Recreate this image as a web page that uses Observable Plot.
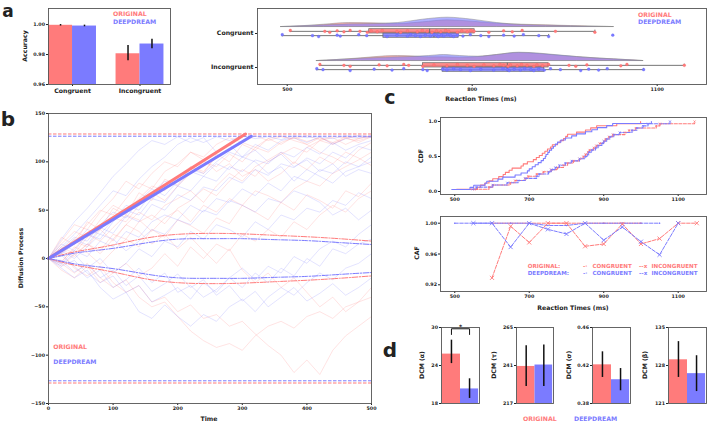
<!DOCTYPE html>
<html><head><meta charset="utf-8">
<script src="https://cdn.jsdelivr.net/npm/d3@7"></script>
<script src="https://cdn.jsdelivr.net/npm/@observablehq/plot@0.6"></script>
<style>
body{margin:0;background:#fff;}
#fig{position:relative;width:708px;height:424px;overflow:hidden;font-family:"DejaVu Sans",sans-serif;background:#fff;}
.t{position:absolute;font-weight:bold;white-space:nowrap;line-height:1;}
.catx [aria-label^="x-axis"] text{font-size:6.2px;}
.caty [aria-label^="y-axis"] text{font-size:6.2px;}
</style></head><body><div id="fig"></div>
<script>
const RED="#ff7b7b", BLUE="#7b7bff", GREY="#666", FRAME="#555";

// ---------- panel a (accuracy) ----------
const accCats=["Congruent","Incongruent"];
const accOrig=[0.9995,0.9805];
const accOrigErr=[[0.9990,1.0000],[0.9758,0.9860]];
const accDeep=[0.9990,0.9870];
const accDeepErr=[[0.9985,0.9996],[0.9838,0.9902]];
const accTicks=[0.96,0.98,1.00];

// ---------- panel a (reaction times) ----------
const rtCats=["Congruent","Incongruent"];
const rtOrigCong=[505,561,569,581,592,602,618,630,636,646,654,678,684,695,711,719,727,735,742,749,757,762,776,783,792,798,803,827,851,865,881,935,999];
const rtDeepCong=[492,541,551,581,586,616,629,662,678,695,700,708,716,724,732,738,743,745,750,754,760,765,770,776,785,797,814,827,851,868,883,908,924,1028];
const rtOrigInc=[553,592,602,649,662,689,697,720,738,759,776,792,803,819,835,845,851,858,862,873,880,889,900,905,914,924,957,968,986,1041,1051,1144];
const rtDeepInc=[548,558,602,641,670,689,720,727,752,759,770,781,797,814,835,850,857,860,868,878,885,895,900,908,917,927,943,976,989,1005,1019,1078];
// [whisker low, q1, median, q3, whisker high]
const boxOrig=[[505,633,731,804,999],[553,720,857,924,1144]];
const boxDeep=[[492,656,738,778,924],[548,752,857,917,1078]];
const violinGrid=[[490,520,560,600,640,680,720,760,800,840,880,920,960,1000,1030],
                  [548,580,620,660,680,700,730,754,780,810,840,876,910,940,970,1000,1030,1060,1078]];
const violinOrig=[[0,2,7,12,11,9,14,20,16,10,7,5,3,1,0],
                  [0,3,8,14,15,14,11,11,10,12,18,24,21,16,12,8,5,2,0]];
const violinDeep=[[0,2,5,8,9,12,22,28,22,12,6,4,2,1,0],
                  [0,3,7,10,11,12,15,18,15,13,18,25,22,17,12,8,5,2,0]];
const rtTicks=[500,800,1100];

// ---------- panel b (diffusion) ----------
const trajT=[0,20,40,60,80,100,120,140,160,180,200,220,240,260,280,300,320,340,360,380,400,420,440,460,480,500];
const trajOrig=[
[0,12,5,22,30,18,35,48,40,55,62,70,58,75,88,80,95,102,110,98,115,122,118,125,120,126],
[0,-8,4,15,8,25,20,38,45,36,52,60,72,65,80,92,85,100,108,115,110,122,125,118,124,127],
[0,6,-10,-18,-8,-25,-35,-28,-45,-40,-55,-48,-62,-58,-70,-65,-78,-90,-100,-118,-105,-120,-95,-80,-70,-60],
[0,-5,-15,-5,-20,-30,-22,-40,-50,-45,-60,-75,-85,-92,-88,-95,-80,-70,-65,-72,-60,-55,-62,-50,-45,-40],
[0,15,28,22,40,55,48,62,75,70,85,95,90,105,112,120,115,124,127,122,118,125,120,126,124,127],
[0,-3,10,25,18,32,45,40,28,42,50,38,55,48,62,55,70,65,58,72,80,75,88,95,102,110],
[0,8,20,35,50,45,62,78,72,90,98,110,105,118,125,120,127,122,126,124,127,123,126,125,127,126],
[0,-12,-20,-8,-25,-15,-5,-18,-10,5,-8,12,0,15,8,25,18,30,22,38,30,45,55,48,62,70],
[0,5,18,12,30,42,38,55,68,60,75,88,100,95,108,100,115,110,120,125,118,110,105,98,112,120],
[0,10,2,15,5,20,35,28,15,25,10,22,8,-5,10,-12,-25,-15,-30,-20,-35,-50,-40,-55,-45,-30],
[0,18,35,30,48,62,80,72,88,100,95,110,102,90,98,85,92,80,88,100,92,105,98,110,104,96],
[0,22,14,38,30,52,45,68,60,82,76,95,88,108,100,118,112,124,118,126,121,125,119,124,122,126],
[0,-4,12,6,-6,8,20,12,30,22,40,34,26,42,36,55,48,40,58,50,66,60,52,70,64,78]];
const trajDeep=[
[0,10,22,18,35,48,42,60,72,65,80,92,88,100,110,105,118,112,122,125,120,126,118,124,127,125],
[0,-10,-20,-12,-30,-42,-35,-55,-62,-48,-60,-70,-58,-65,-50,-42,-55,-40,-30,-38,-25,-15,-22,-10,-5,5],
[0,5,15,30,25,40,55,50,68,80,75,90,85,98,92,105,100,88,95,80,92,85,78,90,95,100],
[0,-5,8,2,18,12,28,22,38,45,40,55,48,62,58,72,65,78,70,85,80,92,88,100,95,105],
[0,12,25,40,55,70,65,82,95,105,118,125,120,126,122,127,124,126,123,127,125,126,124,127,125,126],
[0,-8,-2,-15,-25,-18,-35,-28,-45,-38,-30,-42,-25,-35,-20,-10,-22,-8,-15,2,-5,10,18,12,25,35],
[0,8,0,12,25,20,8,18,30,25,40,35,50,45,60,55,48,62,58,70,65,58,45,52,40,50],
[0,15,8,25,20,38,50,45,62,58,75,70,85,80,95,90,102,98,110,105,115,108,120,112,118,122],
[0,-6,5,-10,0,-15,-5,10,2,18,12,28,20,35,30,22,38,30,45,40,52,48,60,55,68,62],
[0,3,-8,-20,-12,-30,-22,-10,-25,-15,-35,-28,-40,-32,-20,-30,-15,-25,-10,-18,0,-8,10,5,15,20],
[0,20,38,52,68,85,98,112,122,118,126,120,125,110,118,105,112,100,108,95,102,90,98,85,92,88],
[0,6,20,14,32,26,44,38,56,50,66,60,74,70,84,78,92,86,98,94,104,98,110,104,116,112],
[0,-2,-14,-6,-20,-12,-28,-18,-34,-26,-16,-30,-22,-38,-28,-44,-34,-50,-40,-30,-44,-36,-26,-38,-30,-20]];
const driftT=[305,314];          // time the drift line reaches the bound (orig, deep)
const bounds=[128.8,126.5];      // decision bounds (orig, deep)
const sdT=[0,25,50,100,150,200,250,300,350,400,450,500];
const sdOrig=[0,4.5,8,14,21,25,26,25.5,24,22.5,20.5,18];
const sdDeep=[0,3.5,6.5,10.5,16,20,20.5,20.5,19.5,18.5,16.5,14.5];
const diffTicksX=[0,100,200,300,400,500];
const diffTicksY=[-150,-100,-50,0,50,100,150];

// ---------- panel c ----------
const cafBins=[500,550,600,650,700,750,800,850,900,950,1000,1050,1100,1150];
const cafOrigCong=[null,null,1,1,1,1,1,1,1,1,1,null,null,null];
const cafDeepCong=[1,1,1,1,1,0.997,0.997,1,1,1,1,1,null,null];
const cafOrigInc=[null,null,0.929,0.996,0.975,1,1,0.970,0.973,0.999,0.973,0.980,1,1];
const cafDeepInc=[null,1,1,0.969,1,0.992,0.986,1,0.978,0.995,0.976,0.959,1,null];
const cRtTicks=[500,700,900,1100];
const cdfTicks=[0,0.5,1];
const cafTicks=[0.92,0.96,1.00];

// ---------- panel d ----------
const dcmLabels=["DCM (α)","DCM (τ)","DCM (σ)","DCM (β)"];
const dcmOrig=[25.8,240.4,0.4207,129.05];
const dcmOrigErr=[[24.3,28.0],[227.7,253.4],[0.4074,0.4344],[125.8,132.4]];
const dcmDeep=[20.3,241.3,0.405,126.5];
const dcmDeepErr=[[18.8,21.9],[227.7,254.0],[0.3934,0.4168],[123.2,129.8]];
const dcmTicks=[[18,24,30],[217,241,265],[0.38,0.42,0.46],[121,128,135]];
const dcmSig=["*",null,null,null];

// ================= drawing =================
const fig=document.getElementById("fig");
function put(fr, opts, cls){
  const m=Object.assign({l:30,r:6,t:6,b:12}, opts.m||{});
  const o=Object.assign({}, opts); delete o.m;
  const w=fr[2]-fr[0], h=fr[3]-fr[1];
  const svg=Plot.plot(Object.assign({
    width:w+m.l+m.r, height:h+m.t+m.b,
    marginLeft:m.l, marginRight:m.r, marginTop:m.t, marginBottom:m.b,
    style:"background:transparent;font-family:'DejaVu Sans',sans-serif;font-size:4.8px;font-weight:bold;color:#222;overflow:visible;max-width:none;"
  }, cls?{className:cls}:{}, o));
  svg.style.position="absolute";
  svg.style.left=(fr[0]-m.l)+"px";
  svg.style.top=(fr[1]-m.t)+"px";
  fig.appendChild(svg);
}
function txt(s,x,y,o={}){
  const d=document.createElement("div");
  d.className="t"; d.textContent=s;
  d.style.left=x+"px"; d.style.top=y+"px";
  d.style.fontSize=(o.size||6.2)+"px";
  d.style.color=o.color||"#222";
  if(o.lh) d.style.lineHeight=o.lh;
  let tr=o.anchor==="start"?"translate(0,-50%)":"translate(-50%,-50%)";
  if(o.rot) tr+=" rotate(-90deg)";
  d.style.transform=tr;
  fig.appendChild(d);
}
const frame=()=>Plot.frame({stroke:FRAME,strokeWidth:0.9});
const f2=d3.format(".2f");
const fInt=d3.format("d");

// ---- a: accuracy ----
{
  const barW=0.355;
  const orig=accCats.map((c,i)=>({x1:i-barW,x2:i,xc:i-barW/2,v:accOrig[i],lo:accOrigErr[i][0],hi:accOrigErr[i][1]}));
  const deep=accCats.map((c,i)=>({x1:i,x2:i+barW,xc:i+barW/2,v:accDeep[i],lo:accDeepErr[i][0],hi:accDeepErr[i][1]}));
  put([48,8,170,84],{
    x:{domain:[-0.356,1.452],ticks:[0,1],tickFormat:i=>accCats[i],tickSize:2,tickPadding:2.5,label:null},
    y:{domain:[0.96,1.0107],ticks:accTicks,tickFormat:f2,tickSize:2,tickPadding:1.5,label:null},
    marks:[
      Plot.rect(orig,{x1:"x1",x2:"x2",y1:0.96,y2:"v",fill:RED}),
      Plot.rect(deep,{x1:"x1",x2:"x2",y1:0.96,y2:"v",fill:BLUE}),
      Plot.ruleX(orig,{x:"xc",y1:"lo",y2:"hi",stroke:"#111",strokeWidth:1.5}),
      Plot.ruleX(deep,{x:"xc",y1:"lo",y2:"hi",stroke:"#111",strokeWidth:1.5}),
      frame()
    ]
  },"catx");
  txt("Accuracy",25,46,{rot:true});
  txt("ORIGINAL",113,14,{anchor:"start",color:RED});
  txt("DEEPDREAM",113,21.5,{anchor:"start",color:BLUE});
}

// ---- a: reaction-time raincloud ----
{
  const vBase=-0.19, vK=1/102, boxOff=0.063, boxHH=0.063, capH=0.035;
  const vO=[], vD=[];
  rtCats.forEach((c,i)=>violinGrid[i].forEach((ms,j)=>{
    vO.push({i,ms,h:violinOrig[i][j]}); vD.push({i,ms,h:violinDeep[i][j]});
  }));
  const bx=(b,i,off)=>({i,y:i+off,lo:b[0],q1:b[1],med:b[2],q3:b[3],hi:b[4]});
  const bO=boxOrig.map((b,i)=>bx(b,i,-boxOff)), bD=boxDeep.map((b,i)=>bx(b,i,boxOff));
  const pts=(arr,i,off)=>arr.map((ms,j)=>({ms,y:i+off+((j*7)%5-2)*0.014}));
  const pO=[...pts(rtOrigCong,0,-boxOff),...pts(rtOrigInc,1,-boxOff)];
  const pD=[...pts(rtDeepCong,0,boxOff),...pts(rtDeepInc,1,boxOff)];
  const boxMarks=(B,col)=>[
    Plot.ruleY(B,{y:"y",x1:"lo",x2:"hi",stroke:GREY,strokeWidth:0.9}),
    Plot.ruleX(B,{x:"lo",y1:d=>d.y-capH,y2:d=>d.y+capH,stroke:GREY,strokeWidth:0.9}),
    Plot.ruleX(B,{x:"hi",y1:d=>d.y-capH,y2:d=>d.y+capH,stroke:GREY,strokeWidth:0.9}),
    Plot.rect(B,{x1:"q1",x2:"q3",y1:d=>d.y-boxHH,y2:d=>d.y+boxHH,fill:col,fillOpacity:0.85,stroke:GREY,strokeWidth:0.7}),
    Plot.ruleX(B,{x:"med",y1:d=>d.y-boxHH,y2:d=>d.y+boxHH,stroke:GREY,strokeWidth:0.9})
  ];
  put([257,8,706,84],{
    m:{l:46,r:2,t:6,b:12},
    x:{domain:[451.8,1180],ticks:rtTicks,tickFormat:fInt,tickSize:2,tickPadding:1.5,label:null},
    y:{domain:[-0.735,1.5],reverse:true,ticks:[0,1],tickFormat:i=>rtCats[i],tickSize:2,tickPadding:2,label:null},
    marks:[
      Plot.areaY(vO,{x:"ms",y1:d=>d.i+vBase,y2:d=>d.i+vBase-d.h*vK,z:"i",fill:RED,fillOpacity:0.6,stroke:"#888",strokeWidth:0.5,curve:"monotone-x"}),
      Plot.areaY(vD,{x:"ms",y1:d=>d.i+vBase,y2:d=>d.i+vBase-d.h*vK,z:"i",fill:BLUE,fillOpacity:0.6,stroke:"#888",strokeWidth:0.5,curve:"monotone-x"}),
      ...boxMarks(bO,RED),
      ...boxMarks(bD,BLUE),
      Plot.dot(pO,{x:"ms",y:"y",r:1.4,fill:RED,stroke:"#ff5a5a",strokeWidth:0.3}),
      Plot.dot(pD,{x:"ms",y:"y",r:1.4,fill:BLUE,stroke:"#5a5aff",strokeWidth:0.3}),
      frame()
    ]
  },"caty");
  txt("Reaction Times (ms)",481,98.5);
  txt("ORIGINAL",638,15,{anchor:"start",color:RED});
  txt("DEEPDREAM",638,22.3,{anchor:"start",color:BLUE});
}

// ---- b: diffusion ----
{
  const tr=(arr,tag)=>arr.flatMap((a,k)=>a.map((v,j)=>({id:tag+k,t:trajT[j],v})));
  const sd=(arr,sign)=>arr.map((v,j)=>({t:sdT[j],v:sign*v}));
  put([48,113,371,403],{
    x:{domain:[0,500],ticks:diffTicksX,tickSize:2,tickPadding:1.5,label:null},
    y:{domain:[-150,150],ticks:diffTicksY,tickSize:2,tickPadding:1.5,label:null},
    marks:[
      Plot.line(tr(trajOrig,"o"),{x:"t",y:"v",z:"id",stroke:RED,strokeOpacity:0.24,strokeWidth:0.9}),
      Plot.line(tr(trajDeep,"d"),{x:"t",y:"v",z:"id",stroke:BLUE,strokeOpacity:0.24,strokeWidth:0.9}),
      Plot.ruleY([bounds[0],-bounds[0]],{stroke:RED,strokeDasharray:"3.5,1.5",strokeWidth:1}),
      Plot.ruleY([bounds[1],-bounds[1]],{stroke:BLUE,strokeDasharray:"3.5,1.5",strokeWidth:1}),
      Plot.line(sd(sdOrig,1),{x:"t",y:"v",stroke:RED,strokeWidth:1,strokeDasharray:"6,1.5,1.2,1.5",curve:"natural"}),
      Plot.line(sd(sdOrig,-1),{x:"t",y:"v",stroke:RED,strokeWidth:1,strokeDasharray:"6,1.5,1.2,1.5",curve:"natural"}),
      Plot.line(sd(sdDeep,1),{x:"t",y:"v",stroke:BLUE,strokeWidth:1,strokeDasharray:"6,1.5,1.2,1.5",curve:"natural"}),
      Plot.line(sd(sdDeep,-1),{x:"t",y:"v",stroke:BLUE,strokeWidth:1,strokeDasharray:"6,1.5,1.2,1.5",curve:"natural"}),
      Plot.line([{t:0,v:0},{t:driftT[0],v:bounds[0]}],{x:"t",y:"v",stroke:RED,strokeWidth:3}),
      Plot.line([{t:0,v:0},{t:driftT[1],v:bounds[1]}],{x:"t",y:"v",stroke:BLUE,strokeWidth:3}),
      frame()
    ]
  });
  txt("Diffusion Process",20.7,258,{rot:true});
  txt("Time",209,419);
  txt("ORIGINAL",53.3,347,{anchor:"start",color:RED});
  txt("DEEPDREAM",53.3,362,{anchor:"start",color:BLUE});
}

// ---- c: CDF ----
{
  const ecdf=(arr)=>{const s=[...arr].sort((a,b)=>a-b);return s.map((v,i)=>({x:v,y:(i+1)/s.length}));};
  put([440,117,706,194],{
    x:{domain:[461.7,1176],ticks:cRtTicks,tickFormat:fInt,tickSize:2,tickPadding:1.5,label:null},
    y:{domain:[-0.043,1.057],ticks:cdfTicks,tickFormat:d3.format(".1f"),tickSize:2,tickPadding:1.5,label:null},
    marks:[
      Plot.line(ecdf(rtOrigCong),{x:"x",y:"y",stroke:RED,strokeWidth:1.1,curve:"step-after"}),
      Plot.line(ecdf(rtDeepCong),{x:"x",y:"y",stroke:BLUE,strokeWidth:1.1,curve:"step-after"}),
      Plot.line(ecdf(rtOrigInc),{x:"x",y:"y",stroke:RED,strokeWidth:1.1,strokeDasharray:"3,1.5",curve:"step-after"}),
      Plot.line(ecdf(rtDeepInc),{x:"x",y:"y",stroke:BLUE,strokeWidth:1.1,strokeDasharray:"3,1.5",curve:"step-after"}),
      Plot.dot(ecdf(rtOrigInc),{x:"x",y:"y",r:1,symbol:"times",stroke:RED,strokeWidth:0.8}),
      Plot.dot(ecdf(rtDeepInc),{x:"x",y:"y",r:1,symbol:"times",stroke:BLUE,strokeWidth:0.8}),
      frame()
    ]
  });
  txt("CDF",420.5,156,{rot:true});
}

// ---- c: CAF ----
{
  const rows=(arr)=>arr.map((v,j)=>({x:cafBins[j],y:v})).filter(d=>d.y!=null);
  const ln=(arr,col)=>Plot.line(rows(arr),{x:"x",y:"y",stroke:col,strokeWidth:1,strokeDasharray:"3.5,1.5"});
  put([440,216,706,291],{
    x:{domain:[461.7,1176],ticks:cRtTicks,tickFormat:fInt,tickSize:2,tickPadding:1.5,label:null},
    y:{domain:[0.9113,1.0087],ticks:cafTicks,tickFormat:f2,tickSize:2,tickPadding:1.5,label:null},
    marks:[
      ln(cafOrigCong,RED), ln(cafDeepCong,BLUE), ln(cafOrigInc,RED), ln(cafDeepInc,BLUE),
      Plot.dot(rows(cafOrigCong),{x:"x",y:"y",r:0.8,fill:RED}),
      Plot.dot(rows(cafDeepCong),{x:"x",y:"y",r:0.8,fill:BLUE}),
      Plot.dot(rows(cafOrigInc),{x:"x",y:"y",r:2,symbol:"times",stroke:RED,strokeWidth:0.9}),
      Plot.dot(rows(cafDeepInc),{x:"x",y:"y",r:2,symbol:"times",stroke:BLUE,strokeWidth:0.9}),
      frame()
    ]
  });
  txt("CAF",417,253,{rot:true});
  txt("Reaction Times (ms)",573,307.5);
  const L=5.6;
  txt("ORIGINAL:",527.7,266.7,{anchor:"start",color:RED,size:L});
  txt("DEEPDREAM:",527.7,274.2,{anchor:"start",color:BLUE,size:L});
  txt("-·",583,266.7,{anchor:"start",color:RED,size:L});
  txt("-·",583,274.2,{anchor:"start",color:BLUE,size:L});
  txt("CONGRUENT",592.5,266.7,{anchor:"start",color:RED,size:L});
  txt("CONGRUENT",592.5,274.2,{anchor:"start",color:BLUE,size:L});
  txt("--x",639,266.7,{anchor:"start",color:RED,size:L});
  txt("--x",639,274.2,{anchor:"start",color:BLUE,size:L});
  txt("INCONGRUENT",651.5,266.7,{anchor:"start",color:RED,size:L});
  txt("INCONGRUENT",651.5,274.2,{anchor:"start",color:BLUE,size:L});
}

// ---- d: DCM parameters ----
{
  const frames=[[441,327,479,403],[516,327,553,403],[592,327,630,403],[668,327,706,403]];
  const labX=[421.7,494,569,645];
  dcmLabels.forEach((lab,k)=>{
    const tk=dcmTicks[k];
    const o=[{x1:0,x2:1,xc:0.5,v:dcmOrig[k],lo:dcmOrigErr[k][0],hi:dcmOrigErr[k][1]}];
    const dd=[{x1:1,x2:2,xc:1.5,v:dcmDeep[k],lo:dcmDeepErr[k][0],hi:dcmDeepErr[k][1]}];
    const marks=[
      Plot.rect(o,{x1:"x1",x2:"x2",y1:tk[0],y2:"v",fill:RED}),
      Plot.rect(dd,{x1:"x1",x2:"x2",y1:tk[0],y2:"v",fill:BLUE}),
      Plot.ruleX(o,{x:"xc",y1:"lo",y2:"hi",stroke:"#111",strokeWidth:1.5}),
      Plot.ruleX(dd,{x:"xc",y1:"lo",y2:"hi",stroke:"#111",strokeWidth:1.5})
    ];
    if(dcmSig[k]){
      const top=Math.max(dcmOrigErr[k][1],dcmDeepErr[k][1]);
      const span=tk[2]-tk[0];
      const yb=top+span*0.075, yt=top+span*0.075+span*0.075;
      marks.push(Plot.line([{x:0.5,y:yb},{x:0.5,y:yt},{x:1.5,y:yt},{x:1.5,y:yb}],{x:"x",y:"y",stroke:"#111",strokeWidth:1}));
      marks.push(Plot.text([dcmSig[k]],{x:1,y:yt,text:d=>d,dy:-1.2,fontSize:6,fontWeight:"bold",fill:"#111"}));
    }
    marks.push(frame());
    put(frames[k],{
      m:{l:20,r:2,t:4,b:4},
      x:{domain:[-0.05,2.05],axis:null},
      y:{domain:[tk[0],tk[2]],ticks:tk,tickFormat:d3.format("~g"),tickSize:2,tickPadding:1.5,label:null},
      marks
    });
    txt(lab,labX[k],364.5,{rot:true});
  });
  txt("ORIGINAL",523,418.7,{anchor:"start",color:RED});
  txt("DEEPDREAM",574,418.7,{anchor:"start",color:BLUE});
}

// ---- panel letters ----
txt("a",8,11,{size:17});
txt("b",8,119,{size:20});
txt("c",390,97,{size:19});
txt("d",390,350,{size:20});
</script></body></html>
